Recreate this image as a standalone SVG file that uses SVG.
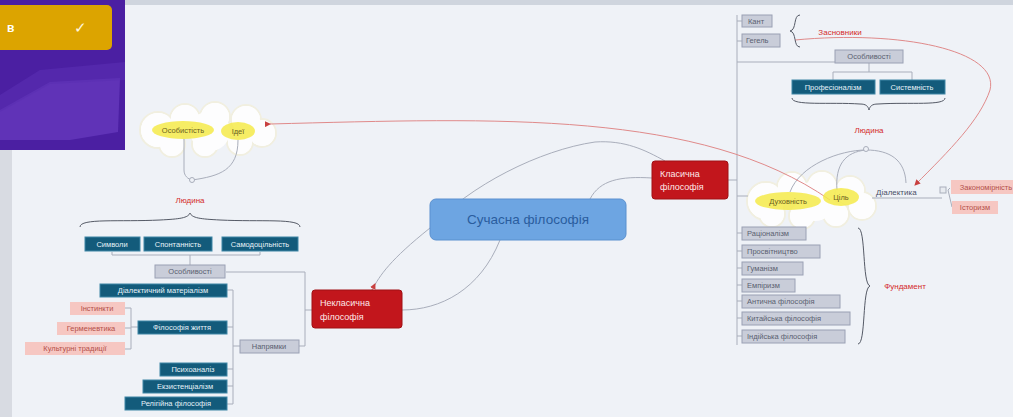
<svg xmlns="http://www.w3.org/2000/svg" width="1013" height="417" viewBox="0 0 1013 417">
<defs>
<style>
text{font-family:"Liberation Sans",Arial,sans-serif}
.b rect{fill:#135b7b;stroke:#3f86a6;stroke-width:1}
.b text{fill:#e6f2f8;font-size:7.5px;text-anchor:middle}
.g rect{fill:#c9cdd9;stroke:#9aa0b4;stroke-width:1}
.g text{fill:#5a5f70;font-size:7.5px}
.p rect{fill:#f6c7c2}
.p text{fill:#b4504a;font-size:7.5px;text-anchor:middle}
.r rect{fill:#c2161c;stroke:#a01015}
.r text{fill:#fde8e8;font-size:9px}
.lbl{fill:#d42a2a;font-size:8px;text-anchor:middle}
.y ellipse{fill:#f4ea4a;opacity:.85}
.y text{fill:#6a6020;font-size:7.5px;text-anchor:middle}
.ln{fill:none;stroke:#a9aebb;stroke-width:1}
.rl{fill:none;stroke:#e08a8a;stroke-width:1}
.br{fill:none;stroke:#555a66;stroke-width:1}
.co circle{fill:#fff;stroke:#f1efe0;stroke-width:2}
.ci circle{fill:#fdfdfe}
</style>
<marker id="ar" markerWidth="6" markerHeight="6" refX="5" refY="3" orient="auto"><path d="M0,0 L6,3 L0,6 z" fill="#c84040"/></marker>
</defs>
<rect width="1013" height="417" fill="#eff2f7"/>
<rect x="0" y="0" width="1013" height="5" fill="#cfd5de"/>
<rect x="0" y="150" width="12" height="267" fill="#d8dbe2"/>
<g id="panel">
<rect x="0" y="0" width="125" height="150" fill="#4b1fa2"/>
<path d="M0,110 L50,82 L120,78 L118,132 L70,140 L0,140 z" fill="#6a3cc0" opacity=".7"/>
<path d="M0,95 L40,70 L125,62 L125,80 L50,84 L0,112 z" fill="#5a2eb2" opacity=".6"/>
<rect x="-6" y="5" width="118" height="45" rx="5" fill="#dca400"/>
<text x="7" y="32" font-size="12" font-weight="bold" fill="#fff">в</text>
<text x="74" y="33" font-size="15" fill="#fff8e0">✓</text>
</g>

<g id="cloud-left">
<g class="co"><circle cx="158" cy="130" r="18"/><circle cx="185" cy="119" r="15"/><circle cx="215" cy="117" r="15"/><circle cx="246" cy="120" r="15"/><circle cx="262" cy="133" r="14"/><circle cx="240" cy="142" r="13"/><circle cx="205" cy="144" r="13"/><circle cx="172" cy="144" r="13"/></g>
<g class="ci"><circle cx="158" cy="130" r="17"/><circle cx="185" cy="119" r="14"/><circle cx="215" cy="117" r="14"/><circle cx="246" cy="120" r="14"/><circle cx="262" cy="133" r="13"/><circle cx="240" cy="142" r="12"/><circle cx="205" cy="144" r="12"/><circle cx="172" cy="144" r="12"/><circle cx="210" cy="131" r="20"/></g>
</g>
<g id="cloud-right">
<g class="co"><circle cx="766" cy="201" r="19"/><circle cx="792" cy="187" r="15"/><circle cx="822" cy="186" r="15"/><circle cx="850" cy="191" r="15"/><circle cx="862" cy="206" r="14"/><circle cx="836" cy="214" r="13"/><circle cx="802" cy="216" r="13"/><circle cx="772" cy="214" r="13"/></g>
<g class="ci"><circle cx="766" cy="201" r="18"/><circle cx="792" cy="187" r="14"/><circle cx="822" cy="186" r="14"/><circle cx="850" cy="191" r="14"/><circle cx="862" cy="206" r="13"/><circle cx="836" cy="214" r="12"/><circle cx="802" cy="216" r="12"/><circle cx="772" cy="214" r="12"/><circle cx="815" cy="201" r="20"/></g>
</g>

<g id="connectors">
<path class="ln" d="M430,228 C390,260 380,275 372,290"/>
<path class="ln" d="M430,228 C470,185 540,150 595,142 C625,140 645,150 665,161"/>
<path class="ln" d="M590,199 C600,180 620,176 652,178"/>
<path class="ln" d="M500,240 C480,290 440,310 402,310"/>
<path class="ln" d="M728,180 L737,180"/>
<path class="ln" d="M737,15 L737,345"/>
<path class="ln" d="M737,21 L742,21 M737,41 L742,41 M737,62 L835,62 M737,196 L748,196"/>
<path class="ln" d="M737,233 L742,233 M737,251 L742,251 M737,268 L742,268 M737,285 L742,285 M737,301 L742,301 M737,318 L742,318 M737,336 L742,336"/>
<path class="ln" d="M869,63 L869,72 M833,80 L833,72 L912,72 L912,80"/>
<path class="ln" d="M866,150 C840,150 800,165 790,192 M866,150 C845,152 835,165 837,190 M866,150 C890,150 905,160 906,183"/>
<path class="ln" d="M872,198 L942,198 M948,190 L950,188 M948,190 L952,207"/>
<rect x="940" y="187" width="6" height="6" fill="#e8ebf0" stroke="#a9aebb"/>
<path class="ln" d="M312,310 L305,310 M305,272 L305,346 M226,272 L305,272 M299,346 L305,346"/>
<path class="ln" d="M190,255 L190,265 M112,255 L112,252 M112,255 L260,255 L260,252"/>
<path class="ln" d="M240,346 L233,346 M233,290 L233,404 M227,290 L233,290 M227,327 L233,327 M227,369 L233,369 M227,386 L233,386 M227,404 L233,404"/>
<path class="ln" d="M138,327 L131,327 M131,308 L131,349 M125,308 L131,308 M125,328 L131,328 M125,349 L131,349"/>
<path class="ln" d="M184,139 L184,170 C184,176 188,179 192,180 M238,140 C238,170 220,176 192,180"/>
<circle cx="192" cy="180" r="2.5" fill="#eff2f7" stroke="#a9aebb"/>
<circle cx="866" cy="149" r="2.5" fill="#eff2f7" stroke="#a9aebb"/>
<path class="rl" d="M270,124 C500,118 700,110 830,200" marker-start="url(#ar)"/>
<path class="rl" d="M795,40 C900,30 1000,50 990,90 C980,120 950,150 915,185" marker-end="url(#ar)"/>
<path class="rl" d="M372,290 L375,284" marker-end="url(#ar)"/>
</g>

<g id="center">
<rect x="430" y="199" width="196" height="41" rx="6" fill="#6da5e2" stroke="#5a90cf"/>
<text x="528" y="224" font-size="13.5" fill="#2a5d9e" text-anchor="middle">Сучасна філософія</text>
</g>
<g id="klas" class="r">
<rect x="652" y="161" width="76" height="38" rx="3"/>
<text x="660" y="177">Класична</text><text x="660" y="190">філософія</text>
</g>
<g id="neklas" class="r">
<rect x="312" y="290" width="90" height="38" rx="3"/>
<text x="320" y="306">Некласична</text><text x="320" y="320">філософія</text>
</g>

<g id="n-osobyst" class="y"><ellipse cx="183" cy="130" rx="31" ry="9"/><text x="183" y="133">Особистість</text></g>
<g id="n-idei" class="y"><ellipse cx="238" cy="131" rx="17" ry="9"/><text x="238" y="134">Ідеї</text></g>
<text id="lyud-left" class="lbl" x="190" y="203">Людина</text>
<path id="brace-left" class="br" d="M80,227 C80,218 120,222 160,220 C180,219 188,218 190,213 C192,218 200,219 220,220 C260,222 300,218 300,227"/>
<g id="n-sym" class="b"><rect x="85" y="237" width="55" height="14"/><text x="112" y="247">Символи</text></g>
<g id="n-spon" class="b"><rect x="144" y="237" width="68" height="14"/><text x="178" y="247">Спонтанність</text></g>
<g id="n-samo" class="b"><rect x="222" y="237" width="76" height="14"/><text x="260" y="247">Самодоцільність</text></g>
<g id="n-osob-l" class="g"><rect x="155" y="265" width="70" height="13"/><text x="190" y="274" text-anchor="middle">Особливості</text></g>
<g id="n-napr" class="g"><rect x="240" y="340" width="59" height="13"/><text x="269" y="349" text-anchor="middle">Напрямки</text></g>
<g id="n-dial" class="b"><rect x="100" y="284" width="127" height="13"/><text x="163" y="293">Діалектичний матеріалізм</text></g>
<g id="n-fzh" class="b"><rect x="138" y="321" width="89" height="13"/><text x="182" y="330">Філософія життя</text></g>
<g id="n-psy" class="b"><rect x="160" y="363" width="67" height="13"/><text x="193" y="372">Психоаналіз</text></g>
<g id="n-ekz" class="b"><rect x="143" y="380" width="84" height="13"/><text x="185" y="389">Екзистенціалізм</text></g>
<g id="n-rel" class="b"><rect x="125" y="397" width="102" height="13"/><text x="176" y="406">Релігійна філософія</text></g>
<g id="n-inst" class="p"><rect x="70" y="302" width="55" height="13"/><text x="97" y="311">Інстинкти</text></g>
<g id="n-herm" class="p"><rect x="57" y="322" width="68" height="13"/><text x="91" y="331">Герменевтика</text></g>
<g id="n-kult" class="p"><rect x="25" y="342" width="100" height="13"/><text x="75" y="351">Культурні традиції</text></g>

<g id="n-kant" class="g"><rect x="742" y="15" width="30" height="12"/><text x="748" y="24">Кант</text></g>
<g id="n-hegel" class="g"><rect x="742" y="34" width="38" height="13"/><text x="746" y="43">Гегель</text></g>
<path id="brace-top" class="br" d="M800,15 C793,15 797,30 790,31 C797,32 793,47 800,47"/>
<text id="zasn" class="lbl" x="840" y="35">Засновники</text>
<g id="n-osob-r" class="g"><rect x="835" y="50" width="68" height="13"/><text x="869" y="59" text-anchor="middle">Особливості</text></g>
<g id="n-prof" class="b"><rect x="792" y="80" width="83" height="14"/><text x="833" y="90">Професіоналізм</text></g>
<g id="n-syst" class="b"><rect x="880" y="80" width="65" height="14"/><text x="912" y="90">Системність</text></g>
<path id="brace-r" class="br" d="M792,98 C792,106 830,102 860,104 C866,104 868,106 869,110 C870,106 872,104 878,104 C910,102 945,106 945,98"/>
<text id="lyud-r" class="lbl" x="869" y="133">Людина</text>
<g id="n-duh" class="y"><ellipse cx="788" cy="201" rx="33" ry="9"/><text x="788" y="204">Духовність</text></g>
<g id="n-cil" class="y"><ellipse cx="841" cy="197" rx="18" ry="9"/><text x="841" y="200">Ціль</text></g>
<text id="dial-r" x="876" y="195" font-size="8" fill="#4a5068">Діалектика</text>
<g id="n-zak" class="p"><rect x="951" y="180" width="70" height="14"/><text x="986" y="190">Закономірність</text></g>
<g id="n-ist" class="p"><rect x="952" y="201" width="46" height="13"/><text x="975" y="210">Історизм</text></g>
<g id="n-rac" class="g"><rect x="742" y="227" width="64" height="13"/><text x="747" y="236">Раціоналізм</text></g>
<g id="n-pros" class="g"><rect x="742" y="245" width="78" height="13"/><text x="747" y="254">Просвітництво</text></g>
<g id="n-hum" class="g"><rect x="742" y="262" width="61" height="13"/><text x="747" y="271">Гуманізм</text></g>
<g id="n-emp" class="g"><rect x="742" y="279" width="53" height="13"/><text x="747" y="288">Емпіризм</text></g>
<g id="n-ant" class="g"><rect x="742" y="295" width="98" height="13"/><text x="747" y="304">Антична філософія</text></g>
<g id="n-kyt" class="g"><rect x="742" y="312" width="108" height="13"/><text x="747" y="321">Китайська філософія</text></g>
<g id="n-ind" class="g"><rect x="742" y="330" width="103" height="13"/><text x="747" y="339">Індійська філософія</text></g>
<path id="brace-f" class="br" d="M858,228 C866,228 862,284 870,286 C862,288 866,344 858,344"/>
<text id="fund" class="lbl" x="905" y="289">Фундамент</text>
</svg>
